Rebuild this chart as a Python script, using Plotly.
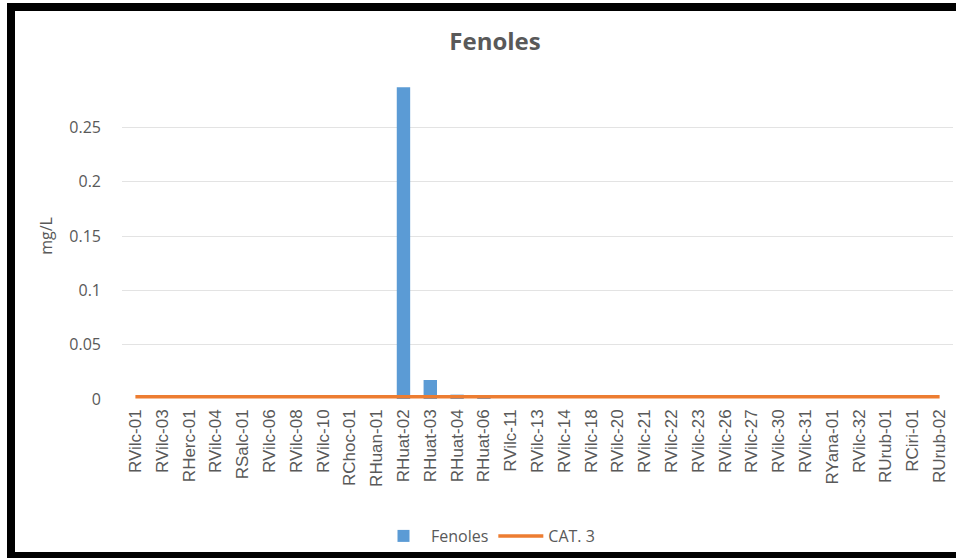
import plotly.graph_objects as go

categories = ["RVilc-01", "RVilc-03", "RHerc-01", "RVilc-04", "RSalc-01", "RVilc-06",
              "RVilc-08", "RVilc-10", "RChoc-01", "RHuan-01", "RHuat-02", "RHuat-03",
              "RHuat-04", "RHuat-06", "RVilc-11", "RVilc-13", "RVilc-14", "RVilc-18",
              "RVilc-20", "RVilc-21", "RVilc-22", "RVilc-23", "RVilc-26", "RVilc-27",
              "RVilc-30", "RVilc-31", "RYana-01", "RVilc-32", "RUrub-01", "RCiri-01",
              "RUrub-02"]
fenoles = [0, 0, 0, 0, 0, 0, 0, 0, 0, 0, 0.287, 0.0175, 0.004, 0.003, 0, 0, 0, 0,
           0, 0, 0, 0, 0, 0, 0, 0, 0, 0, 0, 0, 0]
cat3 = [0.002] * len(categories)
y_ticks = [0, 0.05, 0.1, 0.15, 0.2, 0.25]
y_tick_labels = ["0", "0.05", "0.1", "0.15", "0.2", "0.25"]

W, H = 956, 558
L, R, T, B = 122, 953, 73, 399
pw, ph = R - L, B - T

def px(x):
    return (x - L) / pw

def py(y):
    return (B - y) / ph

fig = go.Figure()
fig.add_trace(go.Bar(x=categories, y=fenoles, name="Fenoles",
                     marker=dict(color="#5B9BD5", line=dict(width=0))))
fig.add_trace(go.Scatter(x=categories, y=cat3, name="CAT. 3", mode="lines",
                         line=dict(color="#ED7D31", width=3.5)))

gray = "#595959"
fig.update_layout(
    width=W, height=H,
    margin=dict(l=L, r=W - R, t=T, b=H - B),
    paper_bgcolor="white", plot_bgcolor="white",
    bargap=0.5,
    font=dict(family="Open Sans, Liberation Sans, sans-serif", color=gray),
    title=dict(text="<b>Fenoles</b>", x=495 / W, xanchor="center",
               y=1 - 42 / H, yanchor="middle",
               font=dict(size=24, color=gray, family="Open Sans, sans-serif")),
    xaxis=dict(tickangle=-90, tickfont=dict(size=17, color=gray, family="Liberation Sans, Arial"),
               showgrid=False, showline=False, ticks="", ticklabelstandoff=6,
               range=[-0.5, len(categories) - 0.5]),
    yaxis=dict(range=[0, 0.3], tickvals=y_ticks, ticktext=y_tick_labels,
               tickfont=dict(size=16, color=gray, family="Open Sans, sans-serif"),
               showgrid=True, gridcolor="#E3E3E3", gridwidth=1, zeroline=False,
               showline=False, ticks="", ticklabelstandoff=20,
               title=dict(text="mg/L", font=dict(size=16, color=gray), standoff=12)),
    legend=dict(orientation="h", x=px(488), xanchor="center", y=py(536), yanchor="middle",
                font=dict(size=16, color=gray), itemwidth=45, traceorder="normal",
                bgcolor="rgba(0,0,0,0)"),
    showlegend=True,
)

# black scanned frame
frame = [
    (7, 3, W + 5, 11),   # top
    (7, 3, 15, H + 5),   # left
    (7, 552, W + 5, H + 5),  # bottom
]
for x0, y0, x1, y1 in frame:
    fig.add_shape(type="rect", xref="paper", yref="paper",
                  x0=px(x0), x1=px(x1), y0=py(y0), y1=py(y1),
                  fillcolor="black", line=dict(width=0), layer="above")

fig.write_html("out.html")
